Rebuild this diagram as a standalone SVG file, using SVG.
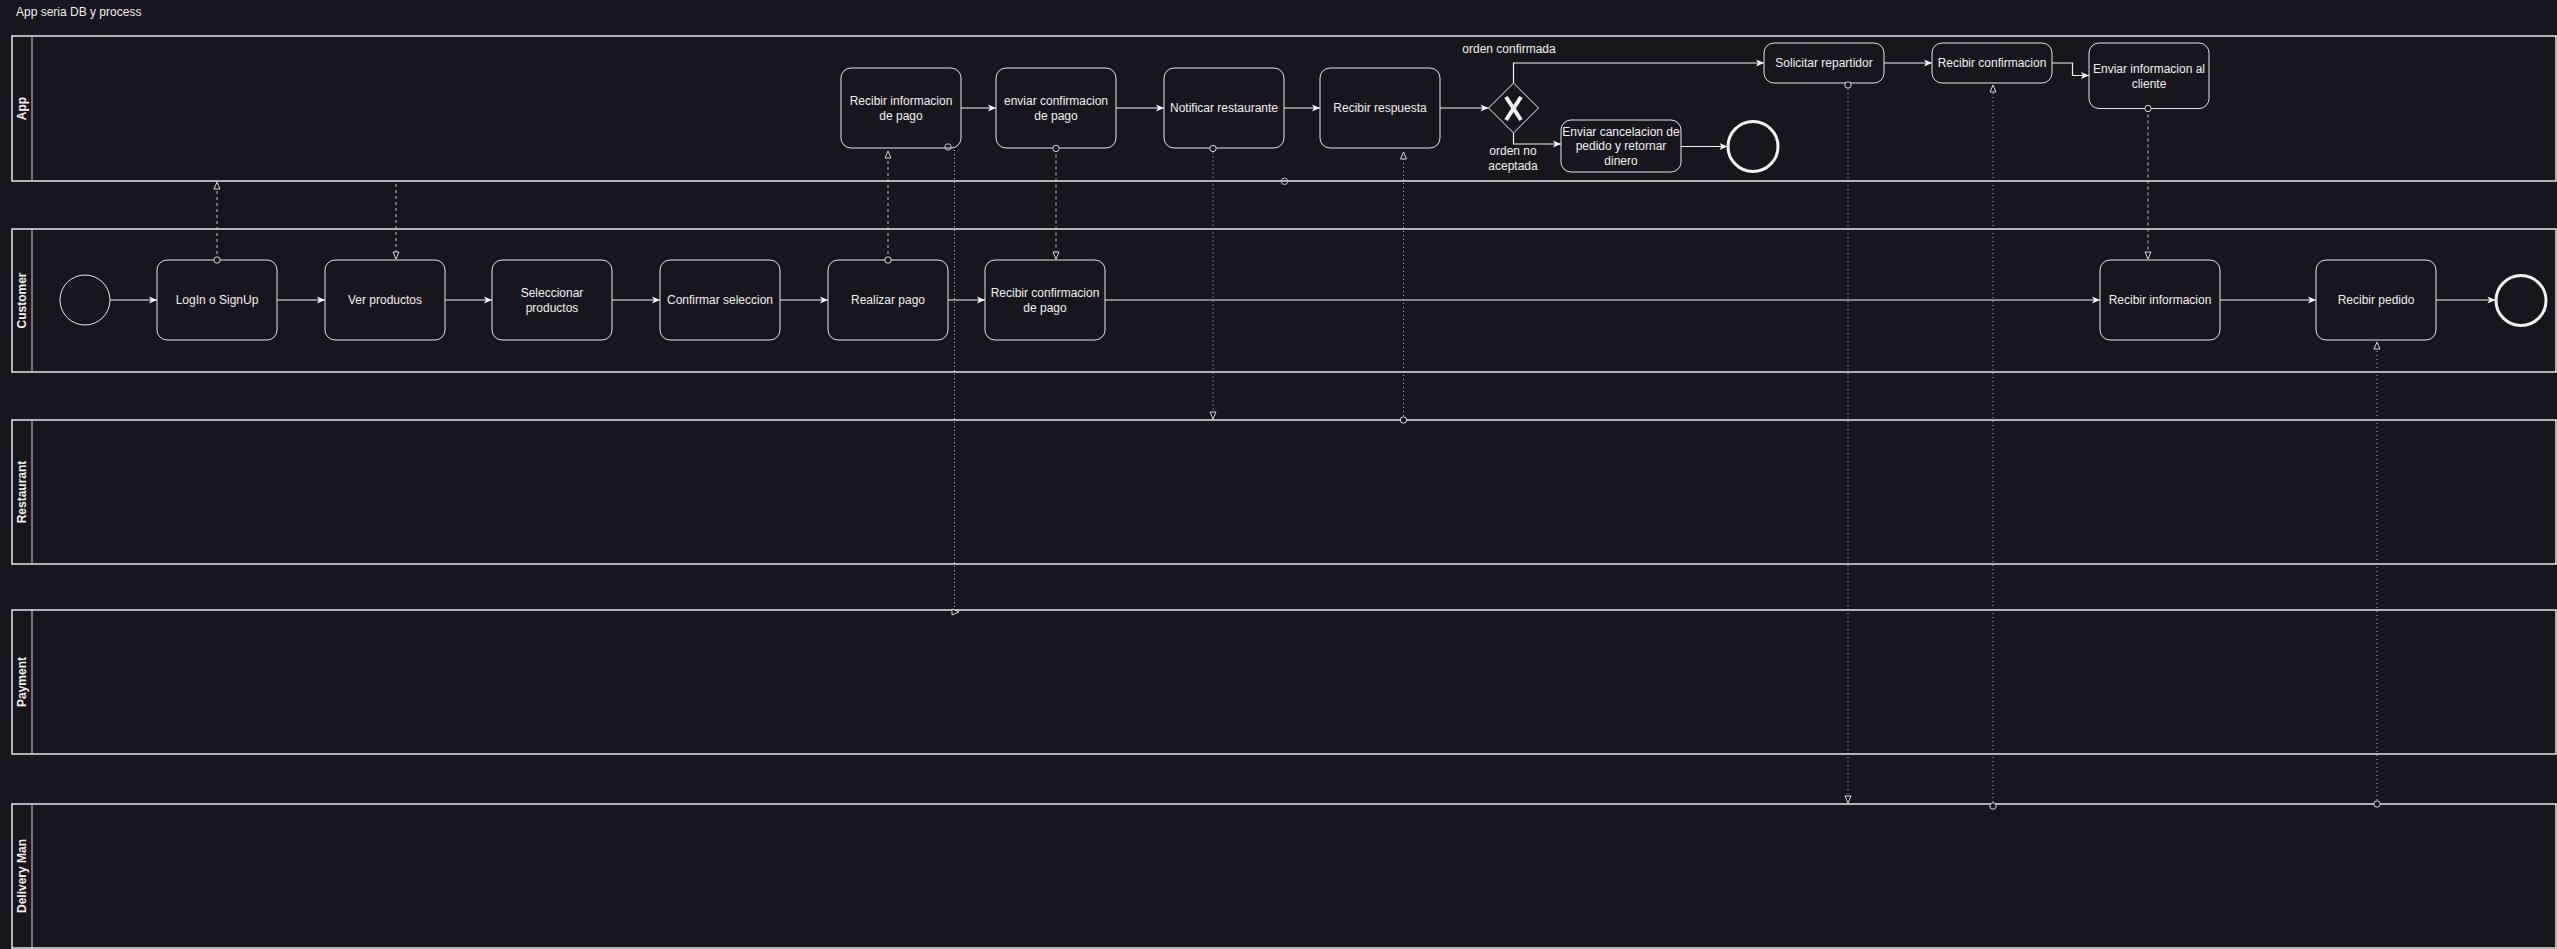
<svg xmlns="http://www.w3.org/2000/svg" width="2557" height="949" viewBox="0 0 2557 949">
<style>
  .bg{fill:#18151e}
  .pool{fill:#18151e;stroke:#f2f2f2;stroke-width:1.4}
  .hdr{stroke:#d0d0d0;stroke-width:1}
  .plabel{font-family:"Liberation Sans",Arial,sans-serif;font-size:12px;font-weight:bold;fill:#f0f0f0;text-anchor:middle;dominant-baseline:central}
  .task{fill:#18151e;stroke:#e6e6e6;stroke-width:1}
  .t{font-family:"Liberation Sans",Arial,sans-serif;font-size:12px;fill:#f0f0f0;text-anchor:middle;dominant-baseline:central}
  .seq{fill:none;stroke:#f2f2f2;stroke-width:1.2;marker-end:url(#arrow)}
  .msg{fill:none;stroke:#c4c4c4;stroke-width:1;stroke-dasharray:3 3;marker-end:url(#open)}
  .dot{fill:none;stroke:#c4c4c4;stroke-width:1;stroke-dasharray:1 3;marker-end:url(#open)}
  .ms{marker-start:url(#oval)}
  .ring{fill:none;stroke:#c4c4c4;stroke-width:1}
</style>
<defs>
  <marker id="arrow" markerUnits="userSpaceOnUse" markerWidth="10" markerHeight="10" refX="8" refY="3.5" orient="auto" overflow="visible">
    <path d="M0,0 L8,3.5 L0,7 L2,3.5 Z" fill="#f2f2f2" stroke="none"/>
  </marker>
  <marker id="open" markerUnits="userSpaceOnUse" markerWidth="10" markerHeight="10" refX="7" refY="3" orient="auto" overflow="visible">
    <path d="M0,0 L7,3 L0,6 Z" fill="#18151e" stroke="#d8d8d8" stroke-width="1" stroke-dasharray="none"/>
  </marker>
  <marker id="oval" markerUnits="userSpaceOnUse" markerWidth="10" markerHeight="10" refX="4.5" refY="4.5" orient="auto" overflow="visible">
    <circle cx="4.5" cy="4.5" r="3.2" fill="#18151e" stroke="#d8d8d8" stroke-width="1" stroke-dasharray="none"/>
  </marker>
</defs>
<rect class="bg" x="0" y="0" width="2557" height="949"/>
<text class="t" x="16" y="12" style="text-anchor:start">App seria DB y process</text>

<g id="pool-app">
  <rect class="pool" x="12" y="36" width="2544" height="145"/>
  <line class="hdr" x1="32" y1="36" x2="32" y2="181"/>
  <text class="plabel" transform="translate(22,108.5) rotate(-90)">App</text>
</g>
<g id="pool-customer">
  <rect class="pool" x="12" y="229" width="2544" height="143"/>
  <line class="hdr" x1="32" y1="229" x2="32" y2="372"/>
  <text class="plabel" transform="translate(22,300.5) rotate(-90)">Customer</text>
</g>
<g id="pool-restaurant">
  <rect class="pool" x="12" y="420" width="2544" height="144"/>
  <line class="hdr" x1="32" y1="420" x2="32" y2="564"/>
  <text class="plabel" transform="translate(22,492) rotate(-90)">Restaurant</text>
</g>
<g id="pool-payment">
  <rect class="pool" x="12" y="610" width="2544" height="144"/>
  <line class="hdr" x1="32" y1="610" x2="32" y2="754"/>
  <text class="plabel" transform="translate(22,682) rotate(-90)">Payment</text>
</g>
<g id="pool-delivery">
  <rect class="pool" x="12" y="804" width="2544" height="144"/>
  <line class="hdr" x1="32" y1="804" x2="32" y2="948"/>
  <text class="plabel" transform="translate(22,876) rotate(-90)">Delivery Man</text>
</g>

<!-- Customer lane -->
<g id="c-start"><circle cx="85" cy="300" r="25" fill="#18151e" stroke="#e6e6e6" stroke-width="1"/></g>
<g id="c-login"><rect class="task" x="157" y="260" width="120" height="80" rx="10"/><text class="t" x="217" y="300">LogIn o SignUp</text></g>
<g id="c-ver"><rect class="task" x="325" y="260" width="120" height="80" rx="10"/><text class="t" x="385" y="300">Ver productos</text></g>
<g id="c-sel"><rect class="task" x="492" y="260" width="120" height="80" rx="10"/><text class="t" x="552" y="292.5">Seleccionar</text><text class="t" x="552" y="307.5">productos</text></g>
<g id="c-conf"><rect class="task" x="660" y="260" width="120" height="80" rx="10"/><text class="t" x="720" y="300">Confirmar seleccion</text></g>
<g id="c-pago"><rect class="task" x="828" y="260" width="120" height="80" rx="10"/><text class="t" x="888" y="300">Realizar pago</text></g>
<g id="c-rconf"><rect class="task" x="985" y="260" width="120" height="80" rx="10"/><text class="t" x="1045" y="292.5">Recibir confirmacion</text><text class="t" x="1045" y="307.5">de pago</text></g>
<g id="c-rinfo"><rect class="task" x="2100" y="260" width="120" height="80" rx="10"/><text class="t" x="2160" y="300">Recibir informacion</text></g>
<g id="c-rped"><rect class="task" x="2316" y="260" width="120" height="80" rx="10"/><text class="t" x="2376" y="300">Recibir pedido</text></g>
<g id="c-end"><circle cx="2521" cy="300.5" r="25" fill="#18151e" stroke="#f2f2f2" stroke-width="3"/></g>

<!-- App lane -->
<g id="a-rinfo"><rect class="task" x="841" y="68" width="120" height="80" rx="10"/><text class="t" x="901" y="100.5">Recibir informacion</text><text class="t" x="901" y="115.5">de pago</text></g>
<g id="a-envconf"><rect class="task" x="996" y="68" width="120" height="80" rx="10"/><text class="t" x="1056" y="100.5">enviar confirmacion</text><text class="t" x="1056" y="115.5">de pago</text></g>
<g id="a-notif"><rect class="task" x="1164" y="68" width="120" height="80" rx="10"/><text class="t" x="1224" y="108">Notificar restaurante</text></g>
<g id="a-resp"><rect class="task" x="1320" y="68" width="120" height="80" rx="10"/><text class="t" x="1380" y="108">Recibir respuesta</text></g>
<g id="a-gw">
  <polygon points="1513.5,83 1538.5,108 1513.5,133 1488.5,108" fill="#18151e" stroke="#f2f2f2" stroke-width="1"/>
  <line x1="1506" y1="97" x2="1521" y2="120" stroke="#f2f2f2" stroke-width="4"/>
  <line x1="1521" y1="97" x2="1506" y2="120" stroke="#f2f2f2" stroke-width="4"/>
</g>
<g id="a-cancel"><rect class="task" x="1561" y="120" width="120" height="52" rx="10"/><text class="t" x="1621" y="131.5">Enviar cancelacion de</text><text class="t" x="1621" y="146">pedido y retornar</text><text class="t" x="1621" y="160.5">dinero</text></g>
<g id="a-end"><circle cx="1753" cy="146.5" r="25" fill="#18151e" stroke="#f2f2f2" stroke-width="3"/></g>
<g id="a-solic"><rect class="task" x="1764" y="43" width="120" height="40" rx="10"/><text class="t" x="1824" y="63">Solicitar repartidor</text></g>
<g id="a-rconf"><rect class="task" x="1932" y="43" width="120" height="40" rx="10"/><text class="t" x="1992" y="63">Recibir confirmacion</text></g>
<g id="a-envinfo"><rect class="task" x="2089" y="43" width="120" height="65.5" rx="10"/><text class="t" x="2149" y="68.5">Enviar informacion al</text><text class="t" x="2149" y="83.5">cliente</text></g>

<g id="connectors">
  <!-- sequence flows customer -->
  <path class="seq" d="M110,300 H157"/>
  <path class="seq" d="M277,300 H325"/>
  <path class="seq" d="M445,300 H492"/>
  <path class="seq" d="M612,300 H660"/>
  <path class="seq" d="M780,300 H828"/>
  <path class="seq" d="M948,300 H985"/>
  <path class="seq" d="M1105,300 H2100"/>
  <path class="seq" d="M2220,300 H2316"/>
  <path class="seq" d="M2436,300 H2495.5"/>
  <!-- sequence flows app -->
  <path class="seq" d="M961,108 H996"/>
  <path class="seq" d="M1116,108 H1164"/>
  <path class="seq" d="M1284,108 H1320"/>
  <path class="seq" d="M1440,108 H1488.5"/>
  <path class="seq" d="M1513.5,83 V63 H1764"/>
  <path class="seq" d="M1513.5,133 V144 H1561"/>
  <path class="seq" d="M1681,146.5 H1727.5"/>
  <path class="seq" d="M1884,63 H1932"/>
  <path class="seq" d="M2052,63 H2072.5 V75.5 H2089"/>
  <text class="t" x="1509" y="49">orden confirmada</text>
  <text class="t" x="1513" y="151">orden no</text>
  <text class="t" x="1513" y="166">aceptada</text>
  <!-- message flows -->
  <path class="msg ms" d="M217,260 V182"/>
  <path class="msg" d="M396,184 V259"/>
  <path class="msg ms" d="M888,260 V151"/>
  <circle class="ring" cx="948" cy="147" r="3.2"/>
  <path class="dot" d="M954.5,150 V612 H959"/>
  <path class="msg ms" d="M1056,148.5 V259"/>
  <path class="dot ms" d="M1213,148.5 V419"/>
  <path class="dot ms" d="M1403.5,420 V152"/>
  <circle class="ring" cx="1284.5" cy="181.3" r="3.2"/>
  <path class="dot ms" d="M1848,85 V803"/>
  <path class="dot ms" d="M1993,806 V85"/>
  <path class="msg ms" d="M2148,108.5 V259"/>
  <path class="dot ms" d="M2377,804 V342"/>
</g>
</svg>
